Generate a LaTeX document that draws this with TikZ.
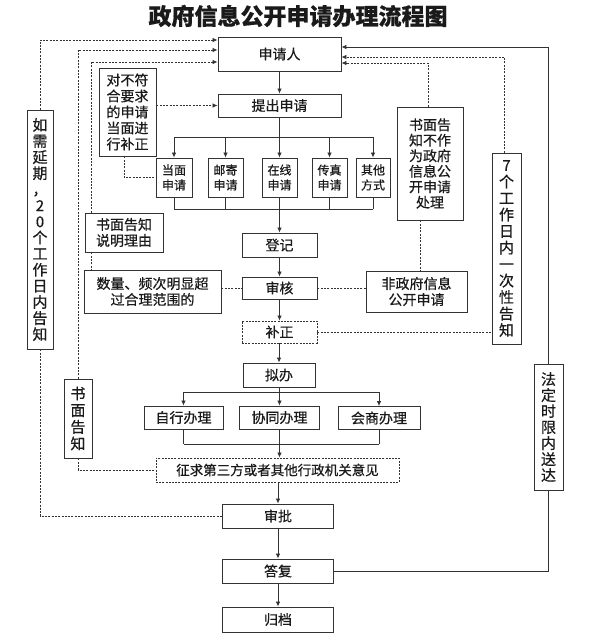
\documentclass[tikz,border=0pt]{standalone}
\usepackage{fontspec}
\setmainfont{Noto Sans CJK SC}[FakeBold=0.5]
\usetikzlibrary{arrows.meta}
\definecolor{linec}{HTML}{333333}
\definecolor{textc}{HTML}{1A1A1A}
\tikzset{
  box/.style={draw=linec, line width=0.9pt, inner sep=0pt, align=center, text=textc, fill=white},
  dbox/.style={box, dash pattern=on 2pt off 1.2pt},
  sz/.style n args={2}{minimum width=#1pt, minimum height=#2pt},
  fs/.style n args={2}{font=\fontsize{#1}{#2}\selectfont},
  ln/.style={draw=linec, line width=0.8pt},
  arr/.style={ln, -{Latex[length=5pt,width=4.5pt]}},
  dl/.style={ln, dash pattern=on 2pt off 1.3pt},
  darr/.style={dl, -{Latex[length=5pt,width=4.5pt]}},
}
\begin{document}
\begin{tikzpicture}[x=1pt,y=-1pt]
\useasboundingbox (0,0) rectangle (590,643);
\fill[white] (0,0) rectangle (590,643);

\node[font=\fontsize{23}{26}\selectfont\bfseries, text=textc] (title) at (298,16) {政府信息公开申请办理流程图};

% main column
\node[box, sz={123}{34}, fs={14}{16}] (sqr) at (279.5,54) {申请人};
\node[box, sz={123}{23}, fs={14}{16}] (tcsq) at (279.5,105.5) {提出申请};
\node[box, sz={36}{39}, fs={12}{15}] (dm) at (174,177.5) {当面\\申请};
\node[box, sz={35}{39}, fs={12}{15}] (yj) at (225.5,177.5) {邮寄\\申请};
\node[box, sz={35}{39}, fs={12}{15}] (zx) at (279.5,177.5) {在线\\申请};
\node[box, sz={35}{39}, fs={12}{15}] (cz) at (329.5,177.5) {传真\\申请};
\node[box, sz={34}{39}, fs={12}{15}] (qt) at (373,177.5) {其他\\方式};
\node[box, sz={75}{24}, fs={14}{16}] (dj) at (279.5,245) {登记};
\node[box, sz={75}{22}, fs={14}{16}] (sh) at (279.5,288) {审核};
\node[dbox, sz={75}{22}, fs={14}{16}] (bz) at (279.5,332) {补正};
\node[box, sz={72}{24}, fs={14}{16}] (nb) at (279,375) {拟办};
\node[box, sz={79}{23}, fs={14}{16}] (zxbl) at (183.5,417.5) {自行办理};
\node[box, sz={80}{23}, fs={14}{16}] (xtbl) at (279.5,417.5) {协同办理};
\node[box, sz={82}{23}, fs={14}{16}] (hsbl) at (379,418) {会商办理};
\node[dbox, sz={243}{24}, fs={13.5}{16}] (zq) at (277.5,470) {征求第三方或者其他行政机关意见};
\node[box, sz={111}{24}, fs={14}{16}] (sp) at (278,516) {审批};
\node[box, sz={111}{24}, fs={14}{16}] (df) at (278,571) {答复};
\node[box, sz={111}{25}, fs={14}{16}] (gd) at (278,619.5) {归档};

% side boxes
\node[box, sz={57}{88}, fs={14}{16}] (dbfh) at (127.5,112) {对不符\\合要求\\的申请\\当面进\\行补正};
\node[box, sz={78}{39}, fs={14}{16}] (smly) at (124,232.5) {书面告知\\说明理由};
\node[box, sz={137}{43}, fs={14}{16}] (slpc) at (152.5,291.5) {数量、频次明显超\\过合理范围的};
\node[box, sz={66}{113}, fs={14}{15.5}] (bzw) at (430,163.5) {书面告\\知不作\\为政府\\信息公\\开申请\\处理};
\node[box, sz={101}{41}, fs={14}{16}] (fzf) at (416.5,291.5) {非政府信息\\公开申请};
\node[box, sz={29}{191}, fs={15}{16.5}] (qgr) at (506.5,248.5) {7\\个\\工\\作\\日\\内\\一\\次\\性\\告\\知};
\node[box, sz={29}{126}, fs={15}{16}] (fdsx) at (548.5,427) {法\\定\\时\\限\\内\\送\\达};
\node[box, sz={26}{239}, fs={15}{16.1}] (ryq) at (40,229.5) {如\\需\\延\\期\\，\\2\\0\\个\\工\\作\\日\\内\\告\\知};
\node[box, sz={28}{79}, fs={15}{16.7}] (smgz) at (78,418.5) {书\\面\\告\\知};

% main flow
\draw[arr] (sqr.south) -- (tcsq.north);
\draw[ln] (tcsq.south) -- (tcsq.south |- 0,137);
\draw[ln] (dm.north |- 0,137) -- (qt.north |- 0,137);
\foreach \n in {dm,yj,zx,cz,qt} \draw[arr] (\n.north |- 0,137) -- (\n.north);
\foreach \n in {dm,yj,zx,cz,qt} \draw[ln] (\n.south) -- (\n.south |- 0,209);
\draw[ln] (dm.south |- 0,209) -- (qt.south |- 0,209);
\draw[arr] (dj.north |- 0,209) -- (dj.north);
\draw[arr] (dj.south) -- (sh.north);
\draw[arr] (sh.south) -- (bz.north);
\draw[arr] (bz.south -| nb.north) -- (nb.north);
\draw[ln] (nb.south) -- (nb.south |- 0,392);
\draw[ln] (zxbl.north |- 0,392) -- (hsbl.north |- 0,392);
\foreach \n in {zxbl,xtbl,hsbl} \draw[arr] (\n.north |- 0,392) -- (\n.north);
\foreach \n in {zxbl,xtbl,hsbl} \draw[ln] (\n.south) -- (\n.south |- 0,444);
\draw[ln] (zxbl.south |- 0,444) -- (hsbl.south |- 0,444);
\draw[arr] (xtbl.south |- 0,444) -- (xtbl.south |- zq.north);
\draw[arr] (sp.north |- zq.south) -- (sp.north);
\draw[arr] (sp.south) -- (df.north);
\draw[arr] (df.south) -- (gd.north);

% left side
\draw[darr] (ryq.north) |- (sqr.west |- 0,40);
\draw[dl] (ryq.south) |- (sp.west);
\draw[darr] (smgz.north) |- (sqr.west |- 0,50);
\draw[dl] (smgz.south) |- (zq.west);
\draw[darr] (smly.north -| 91,0) |- (sqr.west |- 0,62);
\draw[dl] (smly.south -| 91,0) -- (slpc.north -| 91,0);
\draw[dl] (slpc.east |- sh.west) -- (sh.west);
\draw[darr] (dbfh.east |- tcsq.west) -- (tcsq.west);
\draw[dl] (dbfh.south -| 124,0) |- (dm.west);

% right side
\draw[darr] (bzw.north -| 428,0) |- (sqr.east |- 0,63);
\draw[dl] (bzw.south -| 420,0) -- (fzf.north -| 420,0);
\draw[dl] (fzf.west |- sh.east) -- (sh.east);
\draw[darr] (qgr.north -| 504,0) |- (sqr.east |- 0,57);
\draw[dl] (bz.east) -- (bz.east -| qgr.west);
\draw[arr] (fdsx.north) |- (sqr.east |- 0,47);
\draw[ln] (fdsx.south) |- (df.east);
\end{tikzpicture}
\end{document}
